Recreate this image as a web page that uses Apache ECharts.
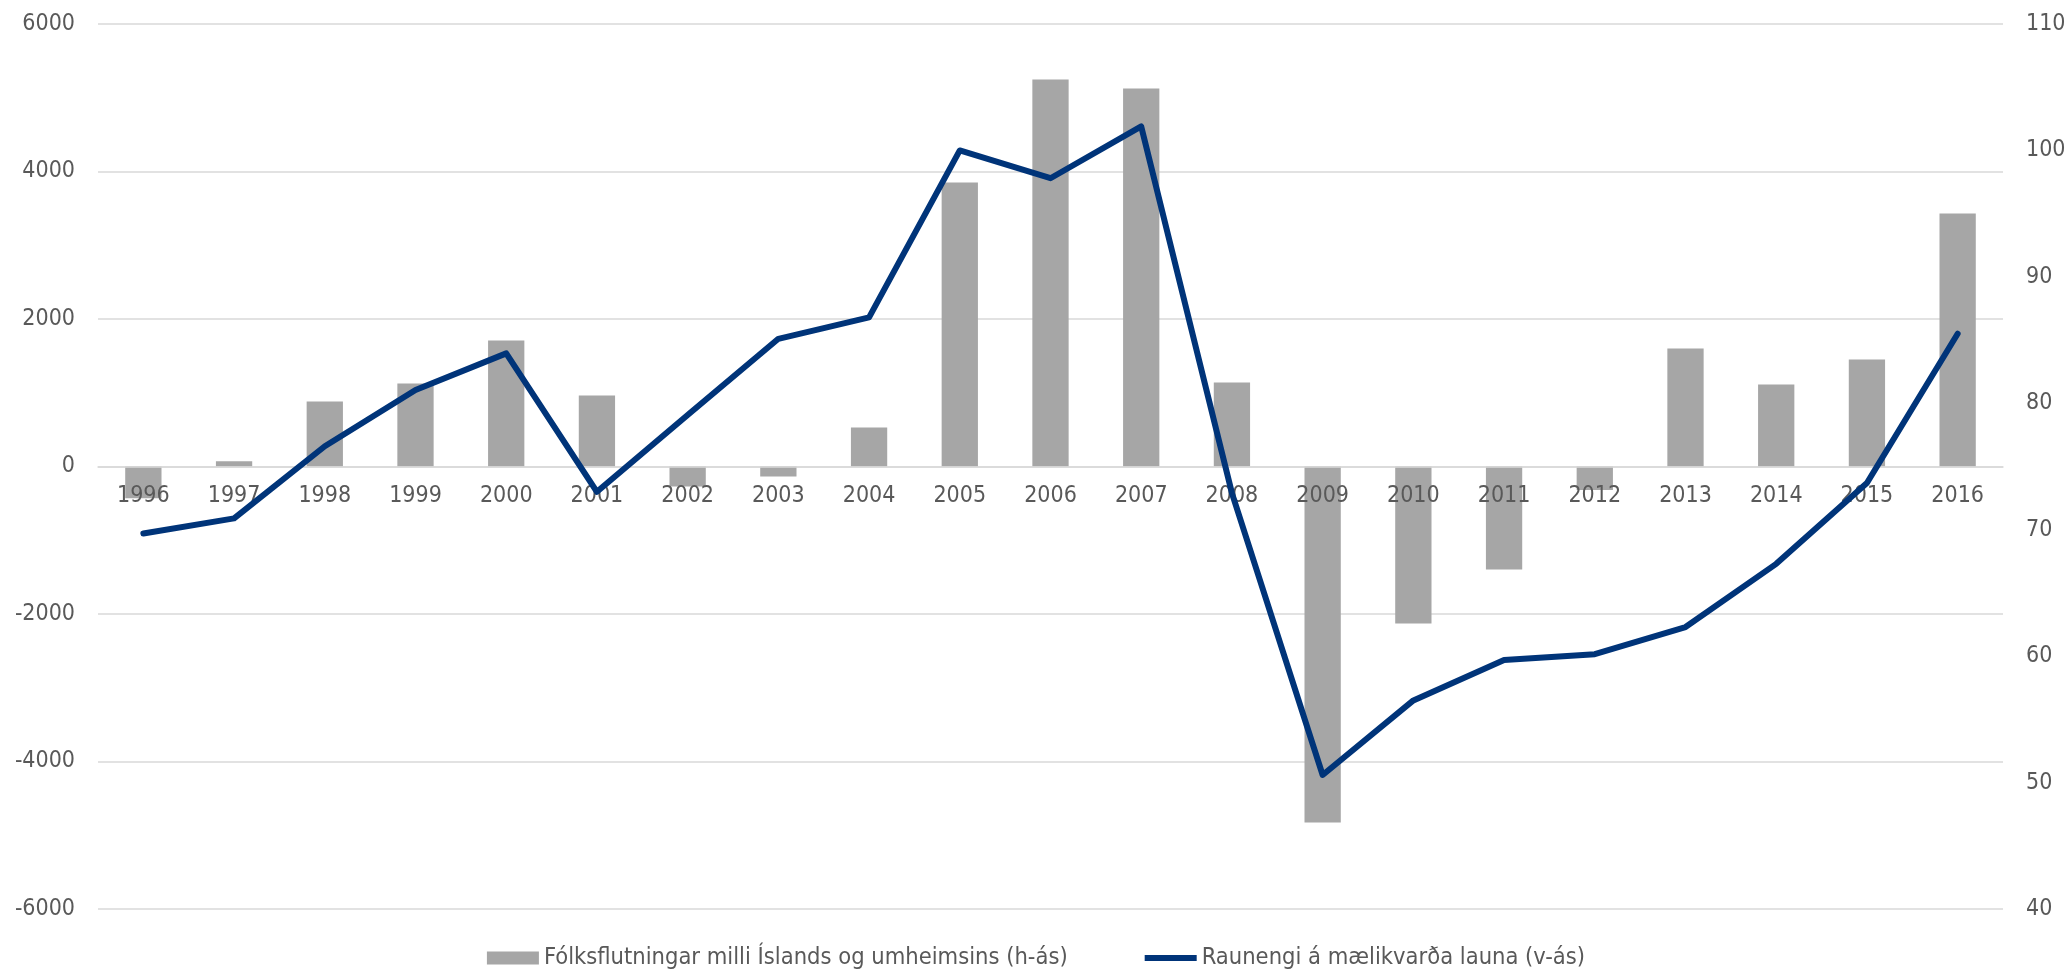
<!DOCTYPE html>
<html>
<head>
<meta charset="utf-8">
<script src="https://cdn.jsdelivr.net/npm/echarts@6/dist/echarts.min.js"></script>
<style>
html,body{margin:0;padding:0;background:#fff;}
#chart{width:2072px;height:977px;}
</style>
</head>
<body>
<div id="chart"></div>
<script>
var years = ['1996','1997','1998','1999','2000','2001','2002','2003','2004','2005','2006','2007','2008','2009','2010','2011','2012','2013','2014','2015','2016'];
var migration = [-430, 70, 880, 1125, 1708, 963, -271, -136, 529, 3851, 5248, 5126, 1139, -4827, -2129, -1397, -320, 1600, 1112, 1451, 3431];
var realRate = [69.7, 70.9, 76.6, 81.05, 83.95, 73.0, 79.07, 85.1, 86.8, 100.0, 97.8, 101.9, 72.9, 50.6, 56.5, 59.7, 60.15, 62.3, 67.3, 73.7, 85.5];
var leftTicks = {min: -6000, max: 6000, interval: 2000};
var rightTicks = {min: 40, max: 110, interval: 10};
var seriesNames = ['Fólksflutningar milli Íslands og umheimsins (h-ás)', 'Raunengi á mælikvarða launa (v-ás)'];

var FONT = 'DejaVu Sans Condensed, DejaVu Sans, sans-serif';
var TXT = '#595959';
var GRID = '#D9D9D9';
var chart = echarts.init(document.getElementById('chart'));
chart.setOption({
  animation: false,
  backgroundColor: '#ffffff',
  textStyle: {fontFamily: FONT},
  grid: {left: 98, right: 69, top: 24, bottom: 68, containLabel: false},
  legend: {
    bottom: 2,
    left: 'center',
    itemGap: 77,
    itemWidth: 52,
    itemHeight: 13,
    textStyle: {fontFamily: FONT, fontSize: 23.5, color: TXT},
    data: [
      {name: seriesNames[0], icon: 'rect'},
      {name: seriesNames[1], icon: 'path://M0,0 L0.01,0 Z M52,13 L51.99,13 Z M0,3.5 L52,3.5 L52,9.5 L0,9.5 Z'}
    ]
  },
  xAxis: {
    type: 'category',
    data: years,
    position: 'bottom',
    offset: -442,
    z: 1,
    axisLine: {show: true, onZero: false, lineStyle: {color: GRID, width: 1.5}},
    axisTick: {show: false},
    axisLabel: {fontFamily: FONT, fontSize: 23, color: TXT, margin: 18, interval: 0}
  },
  yAxis: [
    {
      type: 'value',
      min: leftTicks.min, max: leftTicks.max, interval: leftTicks.interval,
      z: 0,
      axisLine: {show: false},
      axisTick: {show: false},
      axisLabel: {fontFamily: FONT, fontSize: 23, color: TXT, margin: 23, formatter: function (v) { return String(v); }},
      splitLine: {show: true, lineStyle: {color: GRID, width: 1.5}}
    },
    {
      type: 'value',
      min: rightTicks.min, max: rightTicks.max, interval: rightTicks.interval,
      z: 0,
      axisLine: {show: false},
      axisTick: {show: false},
      axisLabel: {fontFamily: FONT, fontSize: 23, color: TXT, margin: 23, formatter: function (v) { return String(v); }},
      splitLine: {show: false}
    }
  ],
  series: [
    {
      name: seriesNames[0],
      type: 'bar',
      data: migration,
      yAxisIndex: 0,
      barCategoryGap: '60%',
      itemStyle: {color: '#A6A6A6'},
      z: 0
    },
    {
      name: seriesNames[1],
      type: 'line',
      data: realRate,
      yAxisIndex: 1,
      symbol: 'none',
      showSymbol: false,
      lineStyle: {color: '#003479', width: 6, cap: 'round', join: 'round'},
      itemStyle: {color: '#003479'},
      z: 3
    }
  ]
});
</script>
</body>
</html>
